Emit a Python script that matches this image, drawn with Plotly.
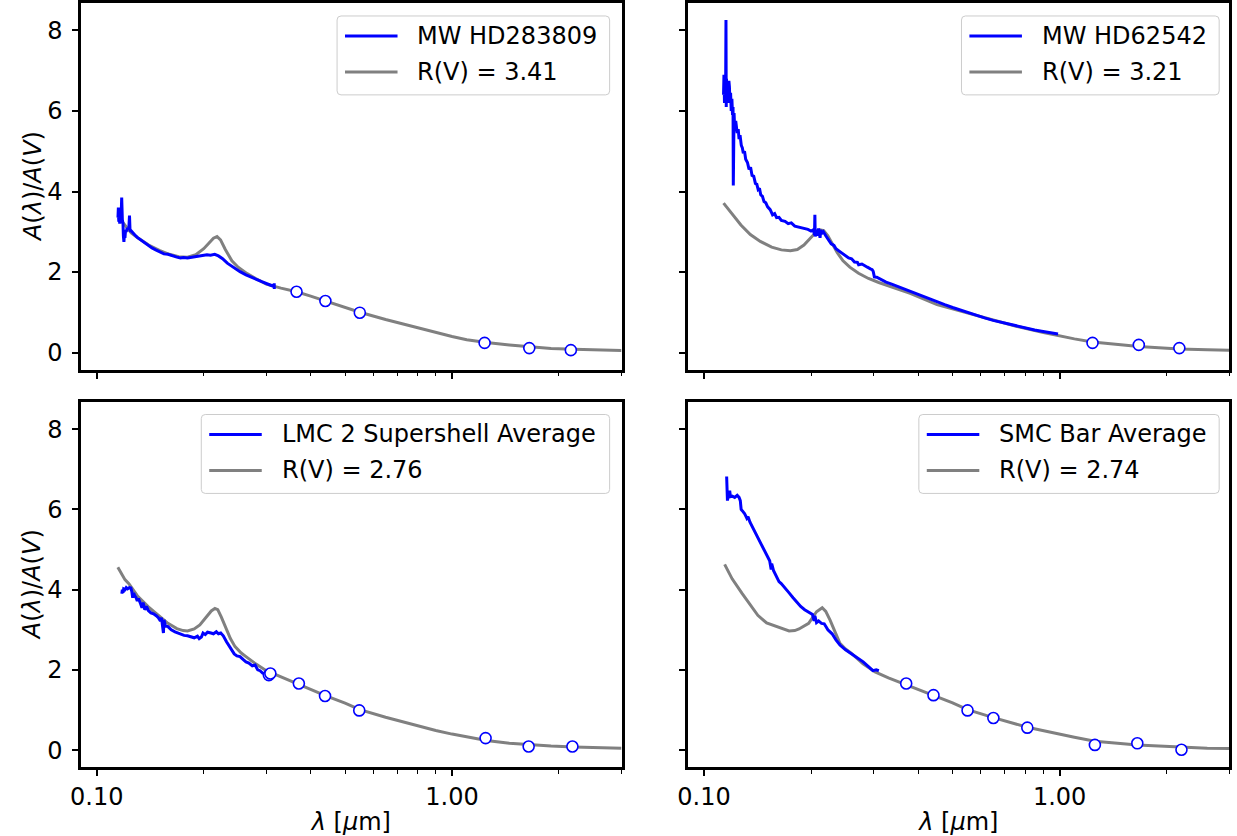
import math
import plotly.graph_objects as go

# ---------------- data ----------------
panel_names = ["MW HD283809", "MW HD62542", "LMC 2 Supershell Average", "SMC Bar Average"]
model_labels = ["R(V) = 3.41", "R(V) = 3.21", "R(V) = 2.76", "R(V) = 2.74"]

# Panel 1: MW HD283809
p1_obs_wave = [0.1147, 0.1150, 0.1153, 0.1156, 0.1160, 0.1165, 0.1170, 0.1175, 0.1180, 0.1185,
               0.1188, 0.1192, 0.1196, 0.1200, 0.1205, 0.1210, 0.1218, 0.1225, 0.1231, 0.1236,
               0.1240, 0.1243, 0.1250, 0.1265, 0.1280, 0.1300, 0.1320, 0.1345, 0.1370, 0.1397,
               0.1430, 0.1465, 0.1500, 0.1545, 0.1586, 0.1630, 0.1680, 0.1720, 0.1754, 0.1800,
               0.1850, 0.1894, 0.1950, 0.2000, 0.2042, 0.2090, 0.2147, 0.2200, 0.2260, 0.2330,
               0.2437, 0.2530, 0.2630, 0.2750, 0.2912, 0.3050, 0.3156, 0.3158, 0.3160]
p1_obs_val = [3.35, 3.60, 3.25, 3.50, 3.20, 3.45, 3.30, 3.85, 3.30, 3.20,
              2.90, 2.75, 2.95, 2.85, 3.05, 3.00, 3.10, 3.05, 3.10, 3.40,
              3.05, 3.00, 3.02, 2.98, 2.92, 2.86, 2.82, 2.76, 2.70, 2.66,
              2.60, 2.55, 2.50, 2.45, 2.44, 2.40, 2.37, 2.35, 2.36, 2.35,
              2.37, 2.38, 2.40, 2.42, 2.43, 2.42, 2.44, 2.40, 2.33, 2.22,
              2.10, 2.01, 1.93, 1.85, 1.76, 1.69, 1.64, 1.72, 1.58]
p1_mod_wave = [0.115, 0.120, 0.125, 0.130, 0.140, 0.150, 0.160, 0.170, 0.180, 0.190,
               0.200, 0.207, 0.213, 0.218, 0.223, 0.230, 0.240, 0.250, 0.265, 0.280,
               0.300, 0.330, 0.365, 0.400, 0.440, 0.480, 0.550, 0.650, 0.750, 0.900,
               1.000, 1.100, 1.250, 1.450, 1.650, 1.900, 2.200, 2.600, 3.000]
p1_mod_val = [3.37, 3.15, 2.97, 2.86, 2.67, 2.54, 2.44, 2.38, 2.37, 2.43,
              2.58, 2.72, 2.84, 2.88, 2.80, 2.56, 2.28, 2.12, 1.96, 1.84,
              1.70, 1.60, 1.51, 1.40, 1.28, 1.17, 1.00, 0.82, 0.68, 0.49,
              0.40, 0.32, 0.25, 0.19, 0.14, 0.10, 0.08, 0.06, 0.05]
p1_phot_wave = [0.365, 0.44, 0.55, 1.235, 1.65, 2.16]
p1_phot_val = [1.51, 1.28, 0.99, 0.24, 0.11, 0.06]

# Panel 2: MW HD62542
p2_obs_wave = [0.1135, 0.1138, 0.1142, 0.1146, 0.1150, 0.1153, 0.1155, 0.1157, 0.1160, 0.1165,
               0.1170, 0.1175, 0.1179, 0.1183, 0.1188, 0.1193, 0.1198, 0.1203, 0.1207, 0.1209,
               0.1211, 0.1215, 0.1220, 0.1228, 0.1240, 0.1248, 0.1255, 0.1263, 0.1273, 0.1282,
               0.1290, 0.1300, 0.1310, 0.1325, 0.1339, 0.1352, 0.1365, 0.1380, 0.1395, 0.1408,
               0.1420, 0.1432, 0.1444, 0.1460, 0.1475, 0.1492, 0.1510, 0.1535, 0.1559, 0.1580,
               0.1600, 0.1625, 0.1650, 0.1690, 0.1725, 0.1760, 0.1800, 0.1850, 0.1909, 0.1960,
               0.2000, 0.2030, 0.2045, 0.2050, 0.2055, 0.2065, 0.2080, 0.2100, 0.2120, 0.2130,
               0.2140, 0.2166, 0.2200, 0.2240, 0.2279, 0.2320, 0.2350, 0.2400, 0.2459, 0.2500,
               0.2550, 0.2600, 0.2650, 0.2700, 0.2721, 0.2780, 0.2830, 0.2880, 0.2937, 0.2970,
               0.2990, 0.3013, 0.3060, 0.3100, 0.3180, 0.3250, 0.3370, 0.3505, 0.3650, 0.3800,
               0.3950, 0.4100, 0.4300, 0.4519, 0.4750, 0.5000, 0.5400, 0.5825, 0.6150, 0.6500,
               0.7000, 0.7510, 0.8000, 0.8500, 0.8900, 0.9300, 0.9600, 0.9894]
p2_obs_val = [6.40, 6.90, 6.20, 6.70, 6.30, 8.26, 6.10, 6.80, 6.20, 6.50,
              6.30, 6.75, 6.60, 6.20, 6.45, 6.00, 6.30, 5.90, 6.10, 4.15,
              5.80, 5.95, 5.55, 5.75, 5.45, 5.55, 5.30, 5.40, 5.15, 5.08,
              4.95, 5.00, 4.80, 4.72, 4.55, 4.60, 4.40, 4.38, 4.20, 4.18,
              4.05, 4.08, 3.92, 3.88, 3.75, 3.72, 3.62, 3.55, 3.42, 3.45,
              3.35, 3.36, 3.28, 3.26, 3.20, 3.22, 3.14, 3.12, 3.09, 3.06,
              3.02, 3.05, 2.92, 3.42, 2.88, 3.05, 2.90, 3.08, 2.85, 3.05,
              2.95, 3.00, 2.90, 2.78, 2.70, 2.66, 2.58, 2.52, 2.45, 2.42,
              2.35, 2.33, 2.25, 2.24, 2.18, 2.20, 2.15, 2.12, 2.08, 2.06,
              2.02, 1.88, 1.87, 1.84, 1.80, 1.75, 1.70, 1.64, 1.58, 1.52,
              1.47, 1.41, 1.34, 1.26, 1.19, 1.12, 1.02, 0.92, 0.86, 0.80,
              0.73, 0.66, 0.61, 0.56, 0.53, 0.50, 0.48, 0.46]
p2_mod_wave = [0.1135, 0.120, 0.127, 0.135, 0.144, 0.155, 0.165, 0.175, 0.183, 0.191,
               0.199, 0.206, 0.212, 0.217, 0.223, 0.229, 0.237, 0.246, 0.257, 0.272,
               0.290, 0.310, 0.340, 0.380, 0.452, 0.550, 0.650, 0.750, 0.900, 1.000,
               1.100, 1.237, 1.450, 1.669, 1.900, 2.170, 2.600, 3.000]
p2_mod_val = [3.71, 3.43, 3.17, 2.93, 2.76, 2.62, 2.55, 2.53, 2.56, 2.67,
              2.83, 2.98, 3.05, 3.03, 2.90, 2.72, 2.48, 2.28, 2.12, 1.97,
              1.84, 1.74, 1.62, 1.47, 1.19, 0.98, 0.80, 0.66, 0.50, 0.41,
              0.34, 0.26, 0.20, 0.15, 0.12, 0.09, 0.07, 0.06]
p2_phot_wave = [1.237, 1.669, 2.17]
p2_phot_val = [0.24, 0.19, 0.11]

# Panel 3: LMC 2 Supershell Average
p3_obs_wave = [0.1176, 0.1180, 0.1185, 0.1190, 0.1200, 0.1210, 0.1220, 0.1235, 0.1247, 0.1255,
               0.1262, 0.1270, 0.1278, 0.1290, 0.1300, 0.1310, 0.1328, 0.1340, 0.1350, 0.1365,
               0.1380, 0.1397, 0.1420, 0.1445, 0.1470, 0.1490, 0.1510, 0.1520, 0.1526, 0.1540,
               0.1546, 0.1560, 0.1586, 0.1620, 0.1660, 0.1711, 0.1760, 0.1800, 0.1847, 0.1880,
               0.1920, 0.1942, 0.1970, 0.1991, 0.2020, 0.2050, 0.2096, 0.2130, 0.2170, 0.2200,
               0.2233, 0.2270, 0.2318, 0.2360, 0.2400, 0.2437, 0.2480, 0.2530, 0.2580, 0.2630,
               0.2680, 0.2740, 0.2790, 0.2838, 0.2880, 0.2930, 0.2984]
p3_obs_val = [3.90, 4.00, 3.92, 4.02, 4.00, 4.05, 4.02, 4.05, 4.04, 3.95,
              3.80, 3.92, 3.85, 3.80, 3.72, 3.78, 3.65, 3.55, 3.68, 3.50,
              3.58, 3.48, 3.42, 3.40, 3.35, 3.30, 3.22, 3.30, 3.20, 2.92,
              3.25, 3.10, 3.08, 3.00, 2.95, 2.90, 2.86, 2.85, 2.82, 2.80,
              2.84, 2.78, 2.82, 2.92, 2.88, 2.94, 2.92, 2.90, 2.95, 2.90,
              2.92, 2.85, 2.70, 2.60, 2.48, 2.40, 2.35, 2.33, 2.26, 2.20,
              2.17, 2.10, 2.12, 2.00, 1.98, 1.92, 1.91]
p3_mod_wave = [0.1146, 0.120, 0.1231, 0.130, 0.1397, 0.150, 0.1586, 0.168, 0.175, 0.180,
               0.188, 0.195, 0.203, 0.210, 0.215, 0.219, 0.224, 0.230, 0.2377, 0.245,
               0.255, 0.263, 0.280, 0.300, 0.325, 0.365, 0.400, 0.440, 0.500, 0.550,
               0.650, 0.750, 0.900, 1.000, 1.100, 1.250, 1.450, 1.650, 1.900, 2.200,
               2.600, 3.000]
p3_mod_val = [4.56, 4.25, 4.15, 3.85, 3.57, 3.33, 3.16, 3.03, 2.98, 2.97,
              3.02, 3.12, 3.32, 3.47, 3.53, 3.50, 3.32, 3.08, 2.78, 2.58,
              2.42, 2.33, 2.15, 1.98, 1.85, 1.67, 1.53, 1.36, 1.17, 1.01,
              0.82, 0.67, 0.49, 0.40, 0.33, 0.24, 0.17, 0.13, 0.10, 0.08,
              0.06, 0.05]
p3_phot_wave = [0.305, 0.308, 0.3705, 0.439, 0.548, 1.243, 1.643, 2.182]
p3_phot_val = [1.87, 1.91, 1.66, 1.35, 0.99, 0.30, 0.09, 0.09]

# Panel 4: SMC Bar Average
p4_obs_wave = [0.1158, 0.1160, 0.1162, 0.1164, 0.1170, 0.1176, 0.1181, 0.1187, 0.1200, 0.1220,
               0.1240, 0.1255, 0.1265, 0.1272, 0.1281, 0.1300, 0.1320, 0.1330, 0.1347, 0.1370,
               0.1395, 0.1417, 0.1445, 0.1470, 0.1491, 0.1510, 0.1530, 0.1545, 0.1550, 0.1568,
               0.1600, 0.1625, 0.1649, 0.1690, 0.1735, 0.1780, 0.1825, 0.1870, 0.1919, 0.1970,
               0.2019, 0.2040, 0.2050, 0.2072, 0.2100, 0.2140, 0.2178, 0.2230, 0.2292, 0.2350,
               0.2411, 0.2500, 0.2599, 0.2700, 0.2803, 0.2900, 0.2985, 0.3050, 0.3102]
p4_obs_val = [6.82, 6.50, 6.70, 6.22, 6.35, 6.30, 6.47, 6.32, 6.33, 6.30,
              6.35, 6.30, 6.22, 6.00, 5.97, 5.90, 5.78, 5.82, 5.68, 5.55,
              5.40, 5.30, 5.15, 5.00, 4.90, 4.80, 4.72, 4.50, 4.65, 4.48,
              4.32, 4.20, 4.15, 4.05, 3.92, 3.80, 3.68, 3.58, 3.50, 3.44,
              3.38, 3.22, 3.35, 3.18, 3.22, 3.16, 3.15, 3.00, 2.90, 2.75,
              2.62, 2.50, 2.40, 2.28, 2.20, 2.08, 1.98, 2.00, 1.98]
p4_mod_wave = [0.1143, 0.120, 0.1281, 0.135, 0.1417, 0.150, 0.1649, 0.1735, 0.180, 0.185,
               0.1969, 0.2030, 0.2072, 0.2150, 0.2200, 0.2262, 0.2330, 0.2411, 0.2500, 0.2599,
               0.2800, 0.3027, 0.3300, 0.3703, 0.4418, 0.5000, 0.5508, 0.6510, 0.8110, 0.9000,
               1.000, 1.100, 1.256, 1.450, 1.653, 1.900, 2.200, 2.600, 3.000]
p4_mod_val = [4.63, 4.27, 3.90, 3.62, 3.36, 3.17, 3.03, 2.97, 2.98, 3.02,
              3.16, 3.32, 3.45, 3.55, 3.46, 3.24, 2.95, 2.66, 2.52, 2.41,
              2.15, 1.95, 1.80, 1.63, 1.37, 1.18, 1.01, 0.81, 0.57, 0.48,
              0.40, 0.32, 0.22, 0.17, 0.13, 0.10, 0.07, 0.05, 0.04]
p4_phot_wave = [0.3703, 0.4418, 0.5508, 0.651, 0.811, 1.256, 1.653, 2.20]
p4_phot_val = [1.66, 1.37, 0.99, 0.80, 0.56, 0.13, 0.17, 0.01]

x_major_vals = [0.1, 1.0]
x_major_text = ["0.10", "1.00"]
x_minor_vals = [0.2, 0.3, 0.4, 0.5, 0.6, 0.7, 0.8, 0.9, 2.0, 3.0]
y_tick_vals = [0, 2, 4, 6, 8]
y_title = "<i>A</i>(<i>λ</i>)/<i>A</i>(<i>V</i>)"
x_title = "<i>λ</i> [<i>μ</i>m]"

# ---------------- layout geometry ----------------
W, H = 1237, 836
FONT = "DejaVu Sans"
FS = 24
BLUE = "#0000ff"
GRAY = "#808080"

def px_x(p):
    return p / W

def px_y(p):
    return 1 - p / H

x_domains = [[px_x(70.7), px_x(616.0)], [px_x(683.3), px_x(1229.3)]]
y_domains = [[px_y(369.3), px_y(1.7)], [px_y(767.3), px_y(401.0)]]
x_range = [math.log10(0.0903), math.log10(3.0)]
y_range = [-0.43, 8.69]

obs = [(p1_obs_wave, p1_obs_val), (p2_obs_wave, p2_obs_val),
       (p3_obs_wave, p3_obs_val), (p4_obs_wave, p4_obs_val)]
mods = [(p1_mod_wave, p1_mod_val), (p2_mod_wave, p2_mod_val),
        (p3_mod_wave, p3_mod_val), (p4_mod_wave, p4_mod_val)]
phots = [(p1_phot_wave, p1_phot_val), (p2_phot_wave, p2_phot_val),
         (p3_phot_wave, p3_phot_val), (p4_phot_wave, p4_phot_val)]

fig = go.Figure()

for i in range(4):
    xa = "x" if i == 0 else f"x{i+1}"
    ya = "y" if i == 0 else f"y{i+1}"
    fig.add_trace(go.Scatter(x=mods[i][0], y=mods[i][1], mode="lines", name=model_labels[i],
                             line=dict(color=GRAY, width=3), xaxis=xa, yaxis=ya, showlegend=False))
    fig.add_trace(go.Scatter(x=obs[i][0], y=obs[i][1], mode="lines", name=panel_names[i],
                             line=dict(color=BLUE, width=3), xaxis=xa, yaxis=ya, showlegend=False))
    fig.add_trace(go.Scatter(x=phots[i][0], y=phots[i][1], mode="markers", name=panel_names[i] + " phot",
                             marker=dict(symbol="circle", size=11, color="white",
                                         line=dict(color=BLUE, width=1.6)),
                             xaxis=xa, yaxis=ya, showlegend=False))

layout_axes = {}
annotations = []
for i in range(4):
    col = i % 2
    row = i // 2
    xkey = "xaxis" if i == 0 else f"xaxis{i+1}"
    ykey = "yaxis" if i == 0 else f"yaxis{i+1}"
    xa = "x" if i == 0 else f"x{i+1}"
    ya = "y" if i == 0 else f"y{i+1}"
    xax = dict(domain=x_domains[col], type="log", range=x_range, anchor=ya,
               showline=True, linecolor="black", linewidth=2.5, mirror=True,
               showgrid=False, zeroline=False,
               tickmode="array", tickvals=x_major_vals, ticktext=x_major_text,
               ticks="outside", ticklen=6, tickwidth=2, tickcolor="black",
               showticklabels=(row == 1),
               tickfont=dict(family=FONT, size=FS, color="black"),
               minor=dict(tickmode="array", tickvals=x_minor_vals, ticks="outside",
                          ticklen=3.5, tickwidth=1, tickcolor="black", showgrid=False))
    if row == 1:
        xax["title"] = dict(text=x_title, font=dict(family=FONT, size=FS, color="black"), standoff=4)
    yax = dict(domain=y_domains[row], range=y_range, anchor=xa,
               showline=True, linecolor="black", linewidth=2.5, mirror=True,
               showgrid=False, zeroline=False,
               tickmode="array", tickvals=y_tick_vals,
               ticks="outside", ticklen=6, tickwidth=2, tickcolor="black",
               showticklabels=(col == 0), ticklabelstandoff=5,
               tickfont=dict(family=FONT, size=FS, color="black"))
    if col == 0:
        yd = y_domains[row]
        annotations.append(dict(text=y_title, xref="paper", yref="paper", x=px_x(22),
                                y=(yd[0] + yd[1]) / 2, xanchor="center", yanchor="middle",
                                textangle=-90, showarrow=False,
                                font=dict(family=FONT, size=FS, color="black")))
    layout_axes[xkey] = xax
    layout_axes[ykey] = yax

# ---------------- legends (boxes drawn like matplotlib's) ----------------
legend_boxes = [(329, 604, 15, 94), (959, 1219, 15, 94), (192, 604, 414, 493), (916, 1219, 414, 493)]

def rounded_box(x0, x1, y0, y1, r=4):
    path = (f"M {px_x(x0 + r)},{px_y(y0)} L {px_x(x1 - r)},{px_y(y0)} "
            f"Q {px_x(x1)},{px_y(y0)} {px_x(x1)},{px_y(y0 + r)} "
            f"L {px_x(x1)},{px_y(y1 - r)} Q {px_x(x1)},{px_y(y1)} {px_x(x1 - r)},{px_y(y1)} "
            f"L {px_x(x0 + r)},{px_y(y1)} Q {px_x(x0)},{px_y(y1)} {px_x(x0)},{px_y(y1 - r)} "
            f"L {px_x(x0)},{px_y(y0 + r)} Q {px_x(x0)},{px_y(y0)} {px_x(x0 + r)},{px_y(y0)} Z")
    return path

shapes = []
for i, (x0, x1, y0, y1) in enumerate(legend_boxes):
    shapes.append(dict(type="path", path=rounded_box(x0, x1, y0, y1), xref="paper", yref="paper",
                       fillcolor="rgba(255,255,255,0.8)", line=dict(color="#cccccc", width=1), layer="above"))
    for k, (label, color) in enumerate([(panel_names[i], BLUE), (model_labels[i], GRAY)]):
        yc = y0 + 20 + 36 * k
        shapes.append(dict(type="line", xref="paper", yref="paper",
                           x0=px_x(x0 + 8), x1=px_x(x0 + 61), y0=px_y(yc), y1=px_y(yc),
                           line=dict(color=color, width=3), layer="above"))
        annotations.append(dict(text=label, xref="paper", yref="paper", x=px_x(x0 + 79), y=px_y(yc),
                                xanchor="left", yanchor="middle", showarrow=False,
                                font=dict(family=FONT, size=FS, color="black")))

fig.update_layout(
    width=W, height=H,
    margin=dict(l=0, r=0, t=0, b=0),
    paper_bgcolor="white", plot_bgcolor="white",
    font=dict(family=FONT, size=FS, color="black"),
    showlegend=False,
    shapes=shapes, annotations=annotations,
    **layout_axes,
)

fig.write_html("out.html", config={"displayModeBar": False},
               post_script="document.body.style.margin='0px';document.body.style.padding='0px';")
